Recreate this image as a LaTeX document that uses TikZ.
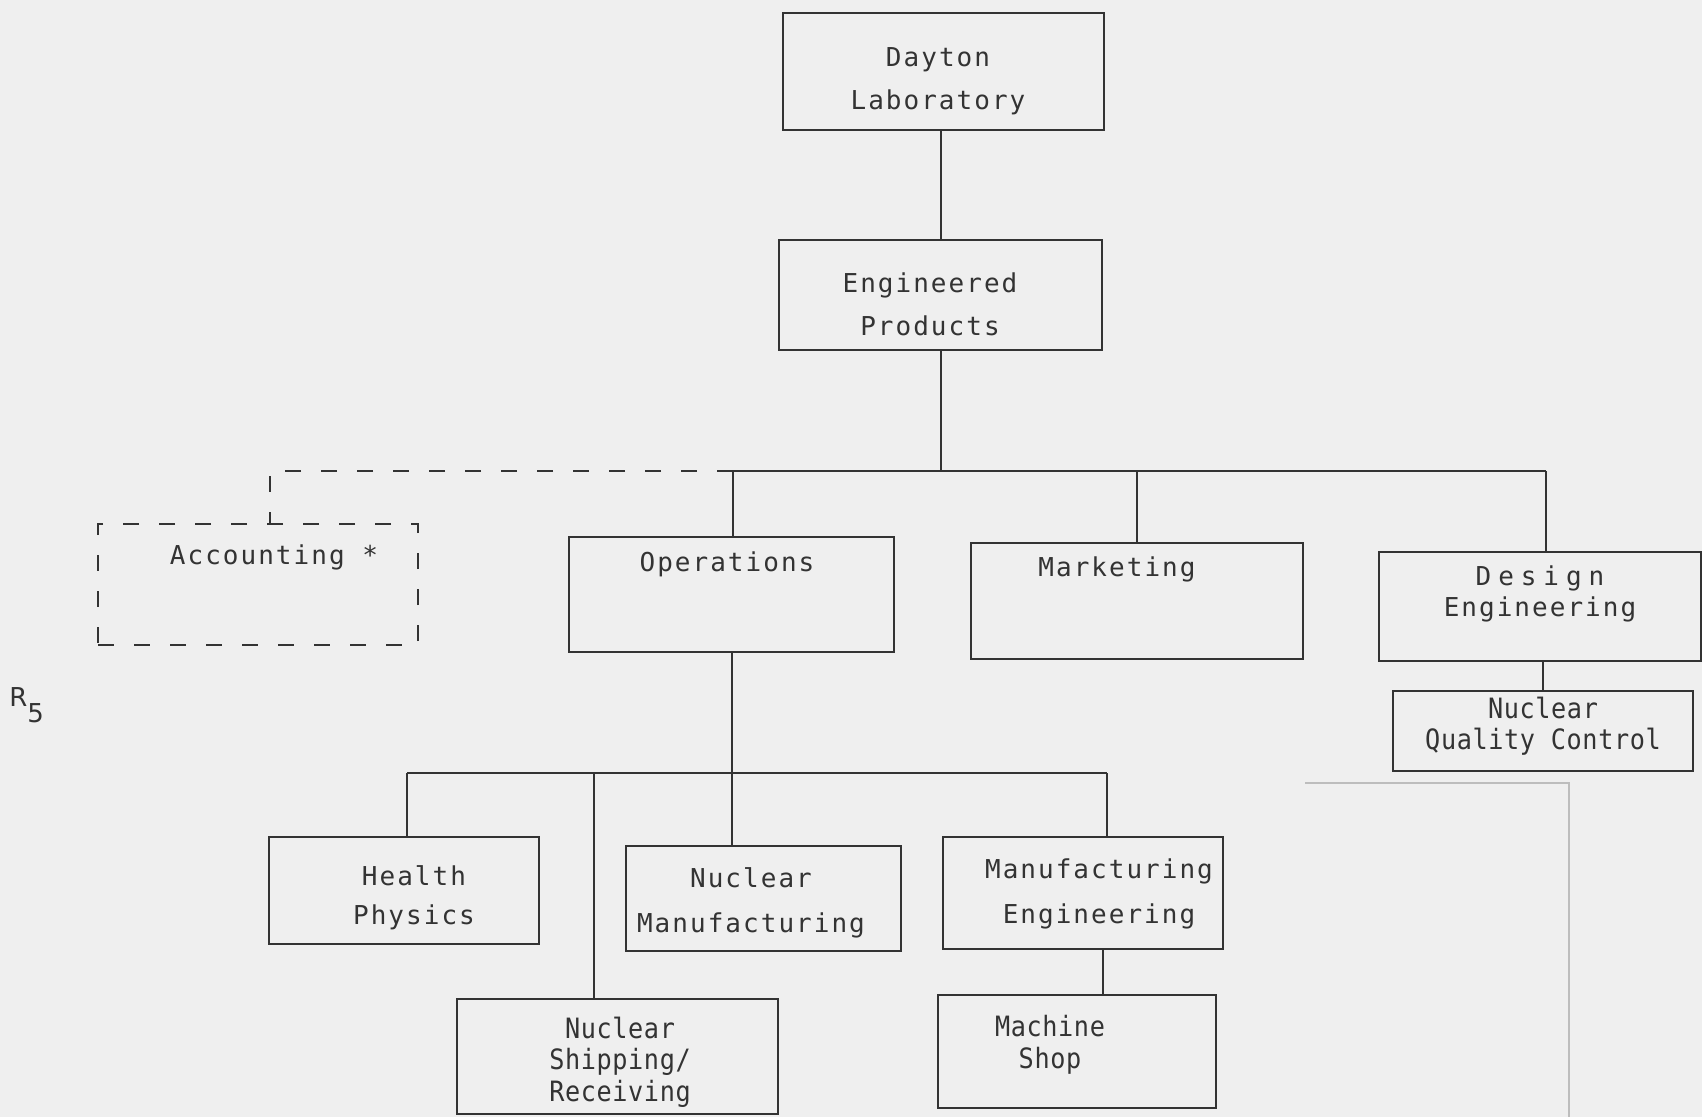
\documentclass[tikz,border=0pt]{standalone}
\usepackage{fontspec}
\usetikzlibrary{fit}
\newfontfamily\chartfont[LetterSpace=7.8]{DejaVu Sans Mono}
\newfontfamily\tightfont[FakeStretch=0.9,LetterSpace=2.2]{DejaVu Sans Mono}
\newfontfamily\widefont[LetterSpace=26.7]{DejaVu Sans Mono}
\newfontfamily\markfont{DejaVu Sans}
\definecolor{paper}{HTML}{EFEFEF}
\definecolor{ink}{HTML}{333333}
\definecolor{faint}{HTML}{BDBDBD}
\tikzset{
  orgbox/.style={draw=ink, line width=1pt, inner sep=0pt},
  dashbox/.style={orgbox, dash pattern=on 8pt off 10pt},
  boxtext/.style={text=ink, align=center, inner sep=0pt, font=\chartfont\fontsize{13}{21.5}\selectfont},
  tighttext/.style={boxtext, font=\tightfont\fontsize{14}{15.75}\selectfont},
  link/.style={draw=ink, line width=1pt},
  dashlink/.style={link, dash pattern=on 8pt off 10pt},
  faintline/.style={draw=faint, line width=0.6pt}
}
\begin{document}
\begin{tikzpicture}[x=0.5pt,y=-0.5pt]
 \fill[paper] (0,0) rectangle (1702,1117);
 \useasboundingbox (0,0) rectangle (1702,1117);
 % boxes
 \node[orgbox, fit={(783,13) (1104,130)}] (lab) {};
 \node[orgbox, fit={(779,240) (1102,350)}] (eng) {};
 \node[dashbox, fit={(98,524) (418,645)}] (acc) {};
 \node[orgbox, fit={(569,537) (894,652)}] (ops) {};
 \node[orgbox, fit={(971,543) (1303,659)}] (mkt) {};
 \node[orgbox, fit={(1379,552) (1701,661)}] (des) {};
 \node[orgbox, fit={(1393,691) (1693,771)}] (nqc) {};
 \node[orgbox, fit={(269,837) (539,944)}] (hp) {};
 \node[orgbox, fit={(626,846) (901,951)}] (nm) {};
 \node[orgbox, fit={(943,837) (1223,949)}] (me) {};
 \node[orgbox, fit={(457,999) (778,1114)}] (ship) {};
 \node[orgbox, fit={(938,995) (1216,1108)}] (shop) {};
 % texts
 \node[boxtext] (labtxt) at (938,81) {Dayton\\Laboratory};
 \node[boxtext] (engtxt) at (930,304) {Engineered\\Products};
 \node[boxtext] (acctxt) at (274,557) {Accounting *};
 \node[boxtext] (opstxt) at (727,564) {Operations};
 \node[boxtext] (mkttxt) at (1117,569) {Marketing};
 \node[boxtext, font=\chartfont\fontsize{13}{15.5}\selectfont] (destxt) at (1540,594) {{\widefont Design}\\Engineering};
 \node[tighttext] (nqctxt) at (1543,726) {Nuclear\\Quality Control};
 \node[boxtext, font=\chartfont\fontsize{13}{19.5}\selectfont] (hptxt) at (414,898) {Health\\Physics};
 \node[boxtext, font=\chartfont\fontsize{13}{22.5}\selectfont] (nmtxt) at (751,903) {Nuclear\\Manufacturing};
 \node[boxtext, font=\chartfont\fontsize{13}{22.5}\selectfont] (metxt) at (1099,894) {Manufacturing\\Engineering};
 \node[tighttext] (shiptxt) at (620,1062) {Nuclear\\Shipping/\\Receiving};
 \node[tighttext] (shoptxt) at (1050,1045) {Machine\\Shop};
 \node[text=ink, anchor=west, inner sep=0pt, font=\markfont\fontsize{13}{13}\selectfont] (rmark) at (9,705) {R\raisebox{-8pt}{5}};
 % connectors
 \coordinate (busL) at (733,471);
 \coordinate (busR) at (1546,471);
 \coordinate (accjoin) at (270,524);
 \coordinate (subL) at (407,773);
 \coordinate (subR) at (1107,773);
 \coordinate (shipX) at (594,773);
 \draw[link] (eng.north) -- (eng.north |- lab.south);
 \draw[link] (eng.south) -- (eng.south |- busL);
 \draw[link] (busL) -- (busR);
 \draw[link] (busL) -- (busL |- ops.north);
 \draw[link] (mkt.north) -- (mkt.north |- busL);
 \draw[link] (busR) -- (busR |- des.north);
 \draw[dashlink] (busL) -| (accjoin);
 \draw[link] (nqc.north) -- (nqc.north |- des.south);
 \draw[link] (ops.south) -- (ops.south |- nm.north);
 \draw[link] (subL) -- (subR);
 \draw[link] (subL) -- (subL |- hp.north);
 \draw[link] (subR) -- (subR |- me.north);
 \draw[link] (shipX) -- (shipX |- ship.north);
 \draw[link] ([xshift=10pt]me.south) -- ([xshift=10pt]me.south |- shop.north);
 \draw[faintline] (1305,783) -| (1569,1117);
\end{tikzpicture}
\end{document}
